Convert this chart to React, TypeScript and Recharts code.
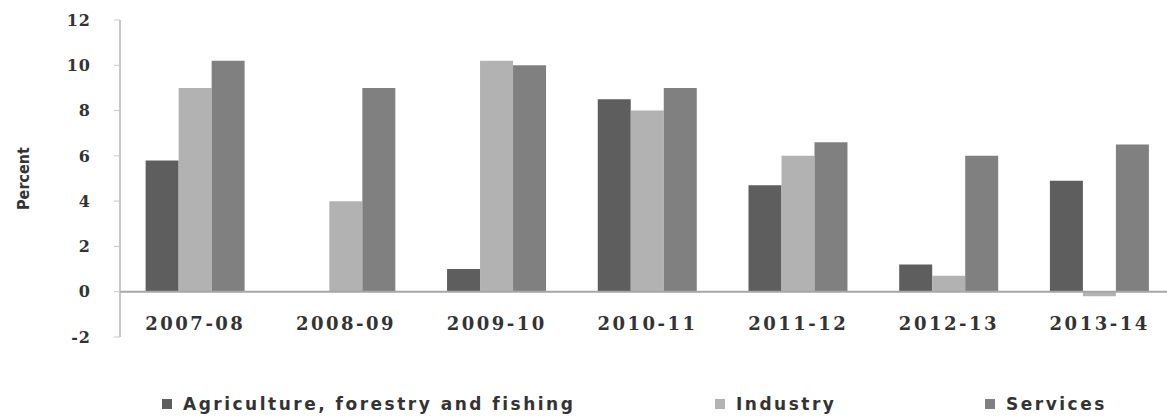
import { Bar, BarChart, ReferenceLine, XAxis, YAxis } from "recharts";

// Sector-wise growth, percent
const CATEGORIES = ["2007-08", "2008-09", "2009-10", "2010-11", "2011-12", "2012-13", "2013-14"];
const AGRICULTURE = [5.8, 0, 1.0, 8.5, 4.7, 1.2, 4.9];
const INDUSTRY = [9.0, 4.0, 10.2, 8.0, 6.0, 0.7, -0.2];
const SERVICES = [10.2, 9.0, 10.0, 9.0, 6.6, 6.0, 6.5];
const Y_TICKS = [-2, 0, 2, 4, 6, 8, 10, 12];

const SERIES = [
  { key: "agriculture", name: "Agriculture, forestry and fishing", color: "#5e5e5e" },
  { key: "industry", name: "Industry", color: "#b2b2b2" },
  { key: "services", name: "Services", color: "#808080" },
];

// left edge of each legend entry
const LEGEND_LEFT = [162, 715, 985];

const data = CATEGORIES.map((year, i) => ({
  year,
  agriculture: AGRICULTURE[i],
  industry: INDUSTRY[i],
  services: SERVICES[i],
}));

const SERIF = "'DejaVu Serif', 'Liberation Serif', serif";
const SANS = "'DejaVu Sans', 'Liberation Sans', sans-serif";

// category labels sit just under the zero line rather than at the plot bottom
function YearTick(props: any) {
  const { x, y, payload } = props;
  return (
    <text
      x={x}
      y={y - 28}
      dy="0.71em"
      textAnchor="middle"
      fill="#333"
      fontFamily={SERIF}
      fontWeight="bold"
      fontSize={18}
      letterSpacing={2.5}
    >
      {payload.value}
    </text>
  );
}

function ValueTick(props: any) {
  const { x, y, payload } = props;
  return (
    <text
      x={x}
      y={y}
      dy="0.36em"
      textAnchor="end"
      fill="#333"
      fontFamily={SERIF}
      fontWeight="bold"
      fontSize={16}
      letterSpacing={1}
    >
      {payload.value}
    </text>
  );
}

export default function App() {
  return (
    <div
      style={{
        position: "absolute",
        left: 0,
        top: 0,
        width: 1167,
        height: 417,
        overflow: "hidden",
        background: "#fff",
      }}
    >
      <BarChart
        width={1180}
        height={417}
        data={data}
        margin={{ top: 20, right: 5, left: 0, bottom: 50 }}
        barCategoryGap="17%"
        barGap={0}
      >
        <XAxis
          dataKey="year"
          height={30}
          axisLine={false}
          tickLine={false}
          interval={0}
          tick={<YearTick />}
        />
        <YAxis
          width={120}
          domain={[-2, 12]}
          ticks={Y_TICKS}
          interval={0}
          axisLine={{ stroke: "#b5b5b5", strokeWidth: 1.5 }}
          tickLine={{ stroke: "#c8c8c8" }}
          tickSize={6}
          tickMargin={23}
          tick={<ValueTick />}
          label={{
            value: "Percent",
            angle: -90,
            position: "insideLeft",
            offset: 23,
            style: {
              textAnchor: "middle",
              fill: "#333",
              fontFamily: "'DejaVu Sans Condensed', 'Liberation Sans Narrow', sans-serif",
              fontWeight: "bold",
              fontSize: 16,
            },
          }}
        />
        {SERIES.map((s) => (
          <Bar
            key={s.key}
            dataKey={s.key}
            name={s.name}
            fill={s.color}
            isAnimationActive={false}
          />
        ))}
        <ReferenceLine y={0} stroke="#a6a6a6" strokeWidth={2} />
      </BarChart>
      {SERIES.map((s, i) => (
        <div
          key={s.key}
          style={{
            position: "absolute",
            left: LEGEND_LEFT[i],
            top: 393,
            display: "flex",
            alignItems: "center",
            fontFamily: SANS,
            fontWeight: "bold",
            fontSize: 17,
            letterSpacing: 2.5,
            color: "#333",
            whiteSpace: "nowrap",
            lineHeight: "22px",
          }}
        >
          <span
            style={{
              display: "inline-block",
              width: 10,
              height: 10,
              background: s.color,
              marginRight: 11,
            }}
          />
          <span>{s.name}</span>
        </div>
      ))}
    </div>
  );
}
